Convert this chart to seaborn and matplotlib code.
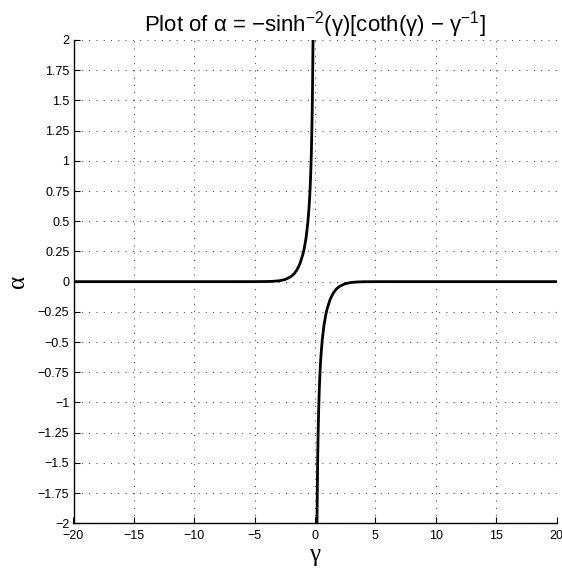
import matplotlib
matplotlib.use("Agg")
import matplotlib.pyplot as plt
import seaborn as sns
import pandas as pd

# Negative-gamma branch (alpha > 0)
gamma_left = [-20.0, -10.0, -7.0, -5.0, -4.0, -3.5, -3.0, -2.5, -2.0, -1.75, -1.5,
              -1.25, -1.0, -0.9, -0.75, -0.6, -0.5, -0.45, -0.4, -0.35, -0.3,
              -0.25, -0.22, -0.2, -0.17, -0.15]
alpha_left = [0.0, 0.0, 0.000003, 0.000145, 0.001008, 0.002617, 0.006692, 0.016762,
              0.04085, 0.06304, 0.09663, 0.1476, 0.2267, 0.2704, 0.3566, 0.4820,
              0.6038, 0.6836, 0.7820, 0.9070, 1.0720, 1.3005, 1.4866, 1.6403,
              1.9376, 2.20]

# Positive-gamma branch (alpha < 0)
gamma_right = [0.15, 0.17, 0.2, 0.22, 0.25, 0.3, 0.35, 0.4, 0.45, 0.5, 0.6, 0.75,
               0.9, 1.0, 1.25, 1.5, 1.75, 2.0, 2.5, 3.0, 3.5, 4.0, 5.0, 7.0, 10.0, 20.0]
alpha_right = [-2.20, -1.9376, -1.6403, -1.4866, -1.3005, -1.0720, -0.9070, -0.7820,
               -0.6836, -0.6038, -0.4820, -0.3566, -0.2704, -0.2267, -0.1476,
               -0.09663, -0.06304, -0.04085, -0.016762, -0.006692, -0.002617,
               -0.001008, -0.000145, -0.000003, 0.0, 0.0]

x_ticks = [-20, -15, -10, -5, 0, 5, 10, 15, 20]
y_ticks = [-2, -1.75, -1.5, -1.25, -1, -0.75, -0.5, -0.25, 0, 0.25, 0.5, 0.75,
           1, 1.25, 1.5, 1.75, 2]
y_labels = ["\u22122", "\u22121.75", "\u22121.5", "\u22121.25", "\u22121", "\u22120.75",
            "\u22120.5", "\u22120.25", "0", "0.25", "0.5", "0.75", "1", "1.25", "1.5",
            "1.75", "2"]
x_labels = ["\u221220", "\u221215", "\u221210", "\u22125", "0", "5", "10", "15", "20"]

sns.set_theme(style="white")
plt.rcParams["font.family"] = ["Liberation Sans", "DejaVu Sans"]
plt.rcParams["text.color"] = "black"
plt.rcParams["axes.labelcolor"] = "black"
plt.rcParams["mathtext.fontset"] = "custom"
plt.rcParams["mathtext.rm"] = "Liberation Sans"
plt.rcParams["mathtext.it"] = "Liberation Sans"
plt.rcParams["mathtext.default"] = "rm"

fig = plt.figure(figsize=(5.62, 5.71), dpi=100)
ax = fig.add_axes([73.5 / 562, 1 - 523.3 / 571, (556.5 - 73.5) / 562, (523.3 - 40) / 571])

df_left = pd.DataFrame({"gamma": gamma_left, "alpha": alpha_left})
df_right = pd.DataFrame({"gamma": gamma_right, "alpha": alpha_right})
sns.lineplot(data=df_left, x="gamma", y="alpha", ax=ax, color="black", lw=2.0,
             sort=False, estimator=None, clip_on=True)
sns.lineplot(data=df_right, x="gamma", y="alpha", ax=ax, color="black", lw=2.0,
             sort=False, estimator=None, clip_on=True)

ax.set_xlim(-20, 20)
ax.set_ylim(-2, 2)
ax.set_xticks(x_ticks)
ax.set_xticklabels(x_labels)
ax.set_yticks(y_ticks)
ax.set_yticklabels(y_labels)
ax.tick_params(direction="in", length=4.5, width=0.8, colors="black", labelsize=9,
               top=False, right=False, bottom=True, left=True)
ax.tick_params(axis="x", pad=5)
ax.tick_params(axis="y", pad=3)

ax.grid(True, linestyle=(0, (1, 6)), color="#444444", linewidth=0.75)
for side in ["top", "right"]:
    ax.spines[side].set_visible(False)
for side in ["left", "bottom"]:
    ax.spines[side].set_visible(True)
    ax.spines[side].set_color("black")
    ax.spines[side].set_linewidth(1.0)
ax.set_facecolor("white")

ax.set_xlabel("\u03b3", fontsize=18, family=["Liberation Serif", "DejaVu Serif"], labelpad=1)
ax.set_ylabel("\u03b1", fontsize=18, family=["Liberation Serif", "DejaVu Serif"], labelpad=6)
ax.set_title("Plot of \u03b1 = \u2212sinh$^{-2}$(\u03b3)[coth(\u03b3) \u2212 \u03b3$^{-1}$]",
             fontsize=16, pad=6, color="black")

fig.savefig("out.png", dpi=100, facecolor="white")
